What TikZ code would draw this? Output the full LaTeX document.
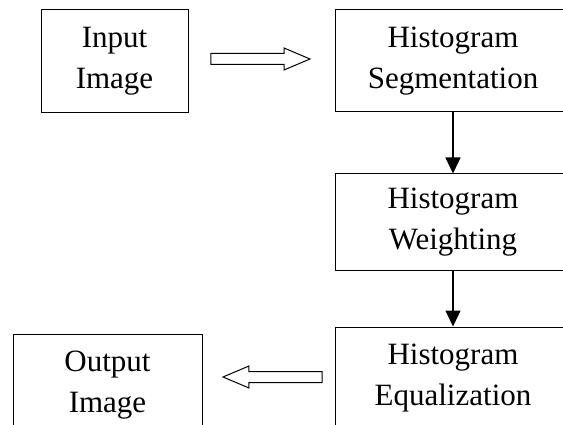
\documentclass[tikz,border=0pt]{standalone}
\usepackage{fontspec}
\setmainfont{Liberation Serif}
\usetikzlibrary{arrows.meta,shapes.arrows}
\begin{document}
\begin{tikzpicture}[x=1pt,y=-1pt,
  box/.style={draw, line width=1pt, align=center, inner sep=0pt,
    font=\fontsize{31}{41}\selectfont},
  blockarrow/.style={draw, line width=1pt, single arrow, inner xsep=0pt,
    inner ysep=5pt, single arrow head extend=5.5pt, single arrow tip angle=46,
    minimum height=99pt},
  flow/.style={line width=1.2pt, -{Triangle[length=16pt,width=15pt]}}]
  \useasboundingbox (0,0) rectangle (563,425);
  \clip (0,0) rectangle (563,425);

  % process boxes
  \node[box, minimum width=147pt, minimum height=103pt] (in) at (114.5,61.5) {Input\\Image};
  \node[box, minimum width=236pt, minimum height=102pt] (seg) at (453,61) {Histogram\\Segmentation};
  \node[box, minimum width=236pt, minimum height=97pt] (wt) at (453,222.5) {Histogram\\Weighting};
  \node[box, minimum width=236pt, minimum height=102pt] (eq) at (453,378) {Histogram\\Equalization};
  \node[box, minimum width=189pt, minimum height=102pt] (out) at (107.5,385) {Output\\Image};

  % hollow block arrows between the side boxes
  \node[blockarrow] (a1) at (254,59) {};
  \node[blockarrow, shape border rotate=180] (a2) at (279,377) {};

  % vertical flow
  \draw[flow] (seg) -- (wt);
  \draw[flow] (wt) -- (eq);
\end{tikzpicture}
\end{document}
